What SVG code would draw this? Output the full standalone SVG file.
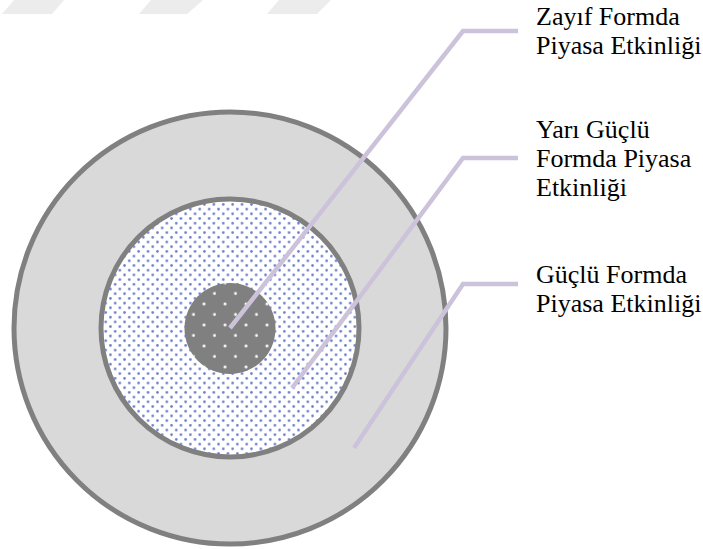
<svg xmlns="http://www.w3.org/2000/svg" width="703" height="549" viewBox="0 0 703 549">
  <style>
    .ring { stroke: #808080; stroke-width: 5; }
    .leader { fill: none; stroke: #CCC3DB; stroke-width: 4.5; stroke-linejoin: miter; }
    .lbl { font-family: "Liberation Serif", "Times New Roman", serif; font-size: 26px; fill: #000000; }
    .wm { fill: #ececec; }
  </style>
  <defs>
    <pattern id="bluedots" patternUnits="userSpaceOnUse" x="0" y="0" width="9.4" height="9.4">
      <circle cx="2.35" cy="2.35" r="1.3" fill="#6b7dca"/>
      <circle cx="7.05" cy="7.05" r="1.3" fill="#6b7dca"/>
    </pattern>
    <pattern id="whitedots" patternUnits="userSpaceOnUse" x="198.75" y="319.75" width="21" height="21">
      <circle cx="5.25" cy="5.25" r="1.4" fill="#ffffff"/>
      <circle cx="15.75" cy="15.75" r="1.4" fill="#ffffff"/>
    </pattern>
  </defs>

  <g id="watermark">
    <polygon class="wm" points="2,14 52,14 64,0 14,0"/>
    <polygon class="wm" points="139,14 187,14 203,0 151,0"/>
    <polygon class="wm" points="267,14 317,14 331,0 279,0"/>
  </g>

  <g id="node-strong">
    <circle class="ring" cx="230" cy="328" r="216" fill="#d9d9d9"/>
  </g>
  <g id="node-semistrong">
    <circle cx="230" cy="328" r="129" fill="#ffffff"/>
    <circle class="ring" cx="230" cy="328" r="129" fill="url(#bluedots)"/>
  </g>
  <g id="node-weak">
    <circle cx="230" cy="328.5" r="45.5" fill="#808080"/>
    <circle cx="230" cy="328.5" r="45.5" fill="url(#whitedots)"/>
  </g>

  <g id="connectors">
    <polyline class="leader" points="230,328 463,31 518,31"/>
    <polyline class="leader" points="292,388 463,158 518,158"/>
    <polyline class="leader" points="354,448 463,284 518,284"/>
  </g>

  <g id="label-weak">
    <text class="lbl" x="536" y="25" font-family="Liberation Serif, serif">Zayıf Formda</text>
    <text class="lbl" x="536" y="54" font-family="Liberation Serif, serif">Piyasa Etkinliği</text>
  </g>
  <g id="label-semistrong">
    <text class="lbl" x="536" y="138" font-family="Liberation Serif, serif">Yarı Güçlü</text>
    <text class="lbl" x="536" y="167" font-family="Liberation Serif, serif">Formda Piyasa</text>
    <text class="lbl" x="536" y="196" font-family="Liberation Serif, serif">Etkinliği</text>
  </g>
  <g id="label-strong">
    <text class="lbl" x="536" y="283" font-family="Liberation Serif, serif">Güçlü Formda</text>
    <text class="lbl" x="536" y="312" font-family="Liberation Serif, serif">Piyasa Etkinliği</text>
  </g>
</svg>
